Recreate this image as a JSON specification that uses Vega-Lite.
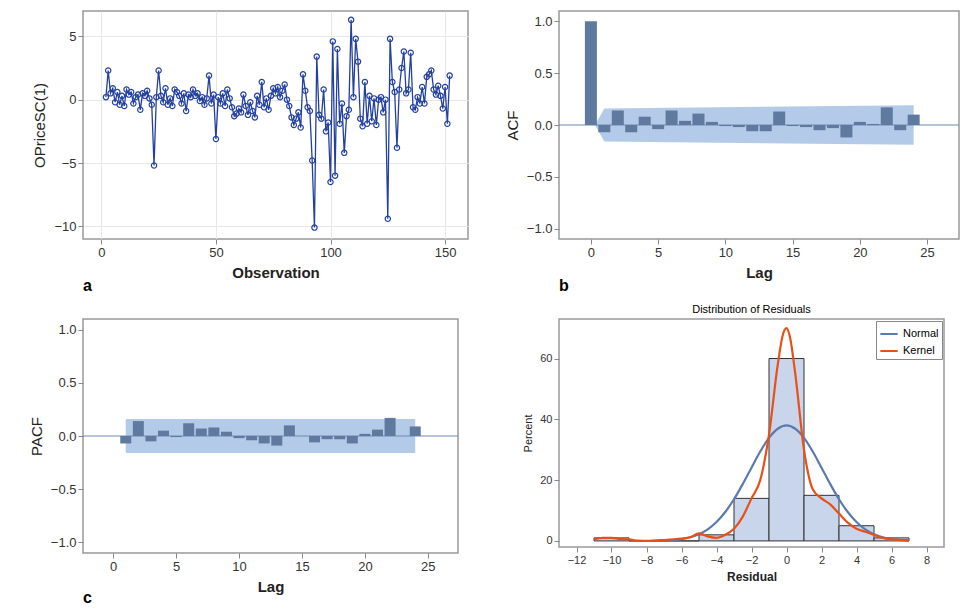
{
  "$schema": "https://vega.github.io/schema/vega-lite/v6.json",
  "background": "white",
  "padding": {"left": 28, "top": 10, "right": 5, "bottom": 2},
  "datasets": {
    "series": [
      {"obs":2,"v":0.2},{"obs":3,"v":2.3},{"obs":4,"v":0.5},{"obs":5,"v":0.9},{"obs":6,"v":-0.2},{"obs":7,"v":0.6},{"obs":8,"v":-0.4},{"obs":9,"v":0.3},{"obs":10,"v":-0.5},{"obs":11,"v":0.8},
      {"obs":12,"v":0.4},{"obs":13,"v":0.6},{"obs":14,"v":-0.3},{"obs":15,"v":0.2},{"obs":16,"v":0.4},{"obs":17,"v":-0.8},{"obs":18,"v":0.5},{"obs":19,"v":0.3},{"obs":20,"v":0.7},{"obs":21,"v":0.1},
      {"obs":22,"v":-0.4},{"obs":23,"v":-5.2},{"obs":24,"v":0.2},{"obs":25,"v":2.3},{"obs":26,"v":0.3},{"obs":27,"v":-0.2},{"obs":28,"v":0.9},{"obs":29,"v":-0.4},{"obs":30,"v":0.1},{"obs":31,"v":-0.5},
      {"obs":32,"v":0.8},{"obs":33,"v":0.6},{"obs":34,"v":0.3},{"obs":35,"v":-0.3},{"obs":36,"v":0.5},{"obs":37,"v":-0.9},{"obs":38,"v":0.4},{"obs":39,"v":0.2},{"obs":40,"v":0.8},{"obs":41,"v":0.3},
      {"obs":42,"v":0.5},{"obs":43,"v":-0.1},{"obs":44,"v":0.2},{"obs":45,"v":-0.4},{"obs":46,"v":0.1},{"obs":47,"v":1.9},{"obs":48,"v":-0.3},{"obs":49,"v":0.4},{"obs":50,"v":-3.1},{"obs":51,"v":0.2},
      {"obs":52,"v":-0.3},{"obs":53,"v":0.5},{"obs":54,"v":-0.5},{"obs":55,"v":0.8},{"obs":56,"v":0.1},{"obs":57,"v":-0.6},{"obs":58,"v":-1.3},{"obs":59,"v":-1.1},{"obs":60,"v":-0.7},{"obs":61,"v":-1.0},
      {"obs":62,"v":0.4},{"obs":63,"v":-0.5},{"obs":64,"v":-1.2},{"obs":65,"v":-0.2},{"obs":66,"v":-0.9},{"obs":67,"v":-1.4},{"obs":68,"v":0.3},{"obs":69,"v":-0.4},{"obs":70,"v":1.4},{"obs":71,"v":-0.6},
      {"obs":72,"v":0.1},{"obs":73,"v":-0.8},{"obs":74,"v":0.3},{"obs":75,"v":0.9},{"obs":76,"v":0.5},{"obs":77,"v":1.0},{"obs":78,"v":0.2},{"obs":79,"v":0.7},{"obs":80,"v":1.2},{"obs":81,"v":0.0},
      {"obs":82,"v":-0.5},{"obs":83,"v":-1.4},{"obs":84,"v":-2.0},{"obs":85,"v":-1.5},{"obs":86,"v":-1.0},{"obs":87,"v":-2.2},{"obs":88,"v":2.0},{"obs":89,"v":0.7},{"obs":90,"v":-0.6},{"obs":91,"v":-0.9},
      {"obs":92,"v":-4.8},{"obs":93,"v":-10.1},{"obs":94,"v":3.4},{"obs":95,"v":-1.2},{"obs":96,"v":-1.5},{"obs":97,"v":0.8},{"obs":98,"v":-2.5},{"obs":99,"v":-1.8},{"obs":100,"v":-6.5},{"obs":101,"v":4.6},
      {"obs":102,"v":-6.0},{"obs":103,"v":4.0},{"obs":104,"v":-1.9},{"obs":105,"v":-0.3},{"obs":106,"v":-4.2},{"obs":107,"v":-1.3},{"obs":108,"v":-0.8},{"obs":109,"v":6.3},{"obs":110,"v":0.2},{"obs":111,"v":4.8},
      {"obs":112,"v":3.0},{"obs":113,"v":-1.5},{"obs":114,"v":-2.1},{"obs":115,"v":1.4},{"obs":116,"v":-1.9},{"obs":117,"v":0.3},{"obs":118,"v":-1.7},{"obs":119,"v":0.1},{"obs":120,"v":-2.0},{"obs":121,"v":0.0},
      {"obs":122,"v":0.2},{"obs":123,"v":-1.0},{"obs":124,"v":0.0},{"obs":125,"v":-9.4},{"obs":126,"v":4.8},{"obs":127,"v":1.4},{"obs":128,"v":0.6},{"obs":129,"v":-3.8},{"obs":130,"v":0.8},{"obs":131,"v":2.5},
      {"obs":132,"v":3.8},{"obs":133,"v":0.5},{"obs":134,"v":0.8},{"obs":135,"v":3.7},{"obs":136,"v":-0.6},{"obs":137,"v":-0.8},{"obs":138,"v":0.2},{"obs":139,"v":-0.3},{"obs":140,"v":1.0},{"obs":141,"v":-0.3},
      {"obs":142,"v":1.8},{"obs":143,"v":2.0},{"obs":144,"v":2.3},{"obs":145,"v":0.8},{"obs":146,"v":0.4},{"obs":147,"v":1.1},{"obs":148,"v":0.3},{"obs":149,"v":-0.7},{"obs":150,"v":1.0},{"obs":151,"v":-1.9},
      {"obs":152,"v":1.9}
    ],
    "acf": [
      {"lag":0,"r":1.0},{"lag":1,"r":-0.07},{"lag":2,"r":0.14},{"lag":3,"r":-0.07},{"lag":4,"r":0.08},{"lag":5,"r":-0.04},{"lag":6,"r":0.14},{"lag":7,"r":0.04},{"lag":8,"r":0.11},{"lag":9,"r":0.03},
      {"lag":10,"r":-0.01},{"lag":11,"r":-0.02},{"lag":12,"r":-0.06},{"lag":13,"r":-0.06},{"lag":14,"r":0.13},{"lag":15,"r":-0.01},{"lag":16,"r":-0.02},{"lag":17,"r":-0.05},{"lag":18,"r":-0.03},{"lag":19,"r":-0.12},
      {"lag":20,"r":0.03},{"lag":21,"r":0.01},{"lag":22,"r":0.17},{"lag":23,"r":-0.05},{"lag":24,"r":0.1}
    ],
    "acfband": [
      {"lag":0.3,"lo":0,"hi":0},{"lag":1,"lo":-0.16,"hi":0.16},{"lag":24,"lo":-0.19,"hi":0.19}
    ],
    "pacf": [
      {"lag":1,"r":-0.07},{"lag":2,"r":0.14},{"lag":3,"r":-0.05},{"lag":4,"r":0.05},{"lag":5,"r":-0.01},{"lag":6,"r":0.12},{"lag":7,"r":0.07},{"lag":8,"r":0.08},{"lag":9,"r":0.04},{"lag":10,"r":-0.02},
      {"lag":11,"r":-0.04},{"lag":12,"r":-0.07},{"lag":13,"r":-0.09},{"lag":14,"r":0.1},{"lag":15,"r":0.0},{"lag":16,"r":-0.06},{"lag":17,"r":-0.03},{"lag":18,"r":-0.03},{"lag":19,"r":-0.07},{"lag":20,"r":0.02},
      {"lag":21,"r":0.06},{"lag":22,"r":0.17},{"lag":23,"r":0.0},{"lag":24,"r":0.09}
    ],
    "pacfband": [
      {"lag":1,"lo":-0.16,"hi":0.16},{"lag":24,"lo":-0.16,"hi":0.16}
    ],
    "hist": [
      {"lo":-11,"hi":-9,"pct":1},{"lo":-9,"hi":-7,"pct":0},{"lo":-7,"hi":-5,"pct":0},{"lo":-5,"hi":-3,"pct":2},{"lo":-3,"hi":-1,"pct":14},
      {"lo":-1,"hi":1,"pct":60},{"lo":1,"hi":3,"pct":15},{"lo":3,"hi":5,"pct":5},{"lo":5,"hi":7,"pct":1}
    ],
    "curves": [
      {"x":-7,"y":0.1,"c":"Normal"},{"x":-6.5,"y":0.3,"c":"Normal"},{"x":-6,"y":0.6,"c":"Normal"},{"x":-5.5,"y":1.2,"c":"Normal"},{"x":-5,"y":2.2,"c":"Normal"},{"x":-4.5,"y":3.8,"c":"Normal"},
      {"x":-4,"y":6.2,"c":"Normal"},{"x":-3.5,"y":9.5,"c":"Normal"},{"x":-3,"y":13.7,"c":"Normal"},{"x":-2.5,"y":18.7,"c":"Normal"},{"x":-2,"y":24.1,"c":"Normal"},{"x":-1.5,"y":29.4,"c":"Normal"},
      {"x":-1,"y":33.9,"c":"Normal"},{"x":-0.5,"y":36.9,"c":"Normal"},{"x":0,"y":38,"c":"Normal"},{"x":0.5,"y":36.9,"c":"Normal"},{"x":1,"y":33.9,"c":"Normal"},{"x":1.5,"y":29.4,"c":"Normal"},
      {"x":2,"y":24.1,"c":"Normal"},{"x":2.5,"y":18.7,"c":"Normal"},{"x":3,"y":13.7,"c":"Normal"},{"x":3.5,"y":9.5,"c":"Normal"},{"x":4,"y":6.2,"c":"Normal"},{"x":4.5,"y":3.8,"c":"Normal"},
      {"x":5,"y":2.2,"c":"Normal"},{"x":5.5,"y":1.2,"c":"Normal"},{"x":6,"y":0.6,"c":"Normal"},{"x":6.5,"y":0.3,"c":"Normal"},{"x":7,"y":0.1,"c":"Normal"},
      {"x":-11,"y":0.5,"c":"Kernel"},{"x":-10.5,"y":1,"c":"Kernel"},{"x":-10,"y":1,"c":"Kernel"},{"x":-9.5,"y":0.6,"c":"Kernel"},{"x":-9,"y":0.5,"c":"Kernel"},{"x":-8.5,"y":0.1,"c":"Kernel"},
      {"x":-8,"y":0,"c":"Kernel"},{"x":-7,"y":0.3,"c":"Kernel"},{"x":-6,"y":0.8,"c":"Kernel"},{"x":-5.5,"y":1.2,"c":"Kernel"},{"x":-5,"y":2.5,"c":"Kernel"},{"x":-4.5,"y":1.5,"c":"Kernel"},
      {"x":-4,"y":1,"c":"Kernel"},{"x":-3.5,"y":2,"c":"Kernel"},{"x":-3,"y":4,"c":"Kernel"},{"x":-2.5,"y":8,"c":"Kernel"},{"x":-2,"y":14,"c":"Kernel"},{"x":-1.5,"y":20,"c":"Kernel"},
      {"x":-1,"y":35,"c":"Kernel"},{"x":-0.5,"y":58,"c":"Kernel"},{"x":-0.2,"y":68,"c":"Kernel"},{"x":0,"y":70,"c":"Kernel"},{"x":0.2,"y":67,"c":"Kernel"},{"x":0.5,"y":55,"c":"Kernel"},
      {"x":1,"y":30,"c":"Kernel"},{"x":1.5,"y":17,"c":"Kernel"},{"x":2,"y":14,"c":"Kernel"},{"x":2.5,"y":12,"c":"Kernel"},{"x":3,"y":9,"c":"Kernel"},{"x":3.5,"y":6,"c":"Kernel"},
      {"x":4,"y":4,"c":"Kernel"},{"x":4.5,"y":3,"c":"Kernel"},{"x":5,"y":2,"c":"Kernel"},{"x":5.5,"y":1,"c":"Kernel"},{"x":6,"y":0.5,"c":"Kernel"},{"x":7,"y":0.2,"c":"Kernel"}
    ]
  },
  "resolve": {"legend": {"color": "independent"}},
  "spacing": 8,
  "vconcat": [
    {
      "spacing": 35,
      "hconcat": [
        {
          "width": 385, "height": 228,
          "title": {"text": "a", "orient": "bottom", "anchor": "start", "frame": "group", "offset": -2},
          "data": {"name": "series"},
          "mark": {"type": "line", "color": "#2340a0", "strokeWidth": 1.3, "point": {"shape": "circle", "size": 28, "filled": false, "color": "#2340a0", "strokeWidth": 1.2}},
          "encoding": {
            "x": {"field": "obs", "type": "quantitative", "title": "Observation", "scale": {"domain": [-8, 160], "nice": false}, "axis": {"values": [0, 50, 100, 150], "grid": true}},
            "y": {"field": "v", "type": "quantitative", "title": "OPriceSC(1)", "scale": {"domain": [-11, 7], "nice": false}, "axis": {"values": [-10, -5, 0, 5], "grid": true, "titleFontWeight": "normal"}}
          }
        },
        {
          "width": 400, "height": 228,
          "title": {"text": "b", "orient": "bottom", "anchor": "start", "frame": "group", "offset": -2},
          "layer": [
            {
              "data": {"name": "acfband"},
              "mark": {"type": "area", "color": "#b3cbe8", "opacity": 1},
              "encoding": {"x": {"field": "lag", "type": "quantitative"}, "y": {"field": "lo", "type": "quantitative"}, "y2": {"field": "hi"}}
            },
            {
              "data": {"values": [{"z": 0}]},
              "mark": {"type": "rule", "color": "#6f8ab3", "strokeWidth": 1.2},
              "encoding": {"y": {"field": "z", "type": "quantitative"}}
            },
            {
              "data": {"name": "acf"},
              "mark": {"type": "bar", "color": "#60799f", "size": 12},
              "encoding": {
                "x": {"field": "lag", "type": "quantitative", "title": "Lag", "scale": {"domain": [-2, 27], "nice": false}, "axis": {"values": [0, 5, 10, 15, 20, 25]}},
                "y": {"field": "r", "type": "quantitative", "title": "ACF", "scale": {"domain": [-1.1, 1.1], "nice": false}, "axis": {"values": [-1, -0.5, 0, 0.5, 1], "format": ".1f", "titleFontWeight": "normal"}}
              }
            }
          ]
        }
      ]
    },
    {
      "spacing": 62,
      "resolve": {"legend": {"color": "independent"}},
      "hconcat": [
        {
          "width": 375, "height": 234,
          "title": {"text": "c", "orient": "bottom", "anchor": "start", "frame": "group", "offset": -4},
          "layer": [
            {
              "data": {"name": "pacfband"},
              "mark": {"type": "area", "color": "#b3cbe8", "opacity": 1},
              "encoding": {"x": {"field": "lag", "type": "quantitative"}, "y": {"field": "lo", "type": "quantitative"}, "y2": {"field": "hi"}}
            },
            {
              "data": {"values": [{"z": 0}]},
              "mark": {"type": "rule", "color": "#6f8ab3", "strokeWidth": 1.2},
              "encoding": {"y": {"field": "z", "type": "quantitative"}}
            },
            {
              "data": {"name": "pacf"},
              "mark": {"type": "bar", "color": "#60799f", "size": 11},
              "encoding": {
                "x": {"field": "lag", "type": "quantitative", "title": "Lag", "scale": {"domain": [-2, 27], "nice": false}, "axis": {"values": [0, 5, 10, 15, 20, 25]}},
                "y": {"field": "r", "type": "quantitative", "title": "PACF", "scale": {"domain": [-1.1, 1.1], "nice": false}, "axis": {"values": [-1, -0.5, 0, 0.5, 1], "format": ".1f", "titleFontWeight": "normal"}}
              }
            }
          ]
        },
        {
          "width": 385, "height": 228,
          "title": {"text": "Distribution of Residuals", "fontSize": 11, "fontWeight": "normal", "anchor": "middle", "offset": 4},
          "layer": [
            {
              "data": {"name": "hist"},
              "mark": {"type": "bar", "fill": "#c8d5ea", "stroke": "#333333", "strokeWidth": 1},
              "encoding": {
                "x": {"field": "lo", "type": "quantitative", "title": "Residual", "scale": {"domain": [-13, 9], "nice": false}, "axis": {"values": [-12, -10, -8, -6, -4, -2, 0, 2, 4, 6, 8], "labelOverlap": false, "labelFontSize": 11, "titleFontSize": 12}},
                "x2": {"field": "hi"},
                "y": {"field": "pct", "type": "quantitative", "title": "Percent", "scale": {"domain": [-2, 73], "nice": false}, "axis": {"values": [0, 20, 40, 60], "labelFontSize": 11, "titleFontSize": 11, "titleFontWeight": "normal"}},
                "y2": {"datum": 0}
              }
            },
            {
              "data": {"name": "curves"},
              "mark": {"type": "line", "strokeWidth": 2.2, "interpolate": "monotone"},
              "encoding": {
                "x": {"field": "x", "type": "quantitative", "axis": {"values": [-12, -10, -8, -6, -4, -2, 0, 2, 4, 6, 8], "labelOverlap": false, "labelFontSize": 11, "titleFontSize": 12, "title": "Residual"}},
                "y": {"field": "y", "type": "quantitative"},
                "color": {"field": "c", "type": "nominal", "sort": ["Normal", "Kernel"], "scale": {"domain": ["Normal", "Kernel"], "range": ["#5c7aae", "#e8501a"]},
                  "legend": {"title": null, "orient": "top-right", "offset": 2, "symbolType": "stroke", "symbolStrokeWidth": 2, "labelFontSize": 11, "strokeColor": "#888", "padding": 3, "fillColor": "white", "symbolSize": 300}}
              }
            }
          ]
        }
      ]
    }
  ],
  "config": {
    "font": "Liberation Sans",
    "view": {"stroke": "#999999", "strokeWidth": 1.5},
    "axis": {"labelFontSize": 13, "titleFontSize": 15, "titleFontWeight": "bold", "labelColor": "#333", "titleColor": "#222", "grid": false, "gridColor": "#e4e8ec", "domain": false, "tickColor": "#888", "titlePadding": 6},
    "title": {"fontSize": 16, "fontWeight": "bold", "color": "black"}
  }
}
